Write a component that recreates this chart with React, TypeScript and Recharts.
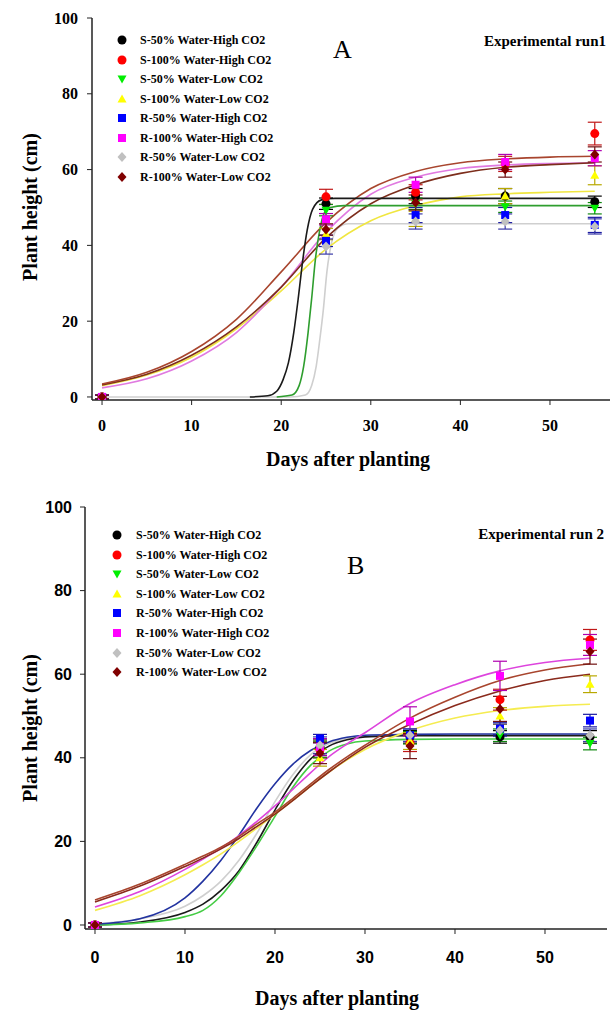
import React from 'react';
import { ComposedChart, Line, Scatter, XAxis, YAxis, ErrorBar } from 'recharts';

// sampling days of the measured points
const days = [0, 25, 35, 45, 55];

const seriesNames = [
  'S-50% Water-High CO2',
  'S-100% Water-High CO2',
  'S-50% Water-Low CO2',
  'S-100% Water-Low CO2',
  'R-50% Water-High CO2',
  'R-100% Water-High CO2',
  'R-50% Water-Low CO2',
  'R-100% Water-Low CO2',
];

// run 1 (A) means and error
const aS50High = [0, 51, 53, 53, 51.5];
const aS100High = [0, 52.8, 54, 61.5, 69.5];
const aS50Low = [0, 49.3, 51, 50.2, 49.8];
const aS100Low = [0, 43, 47, 53, 58.5];
const aR50High = [0, 41.2, 48, 48, 45.4];
const aR100High = [0, 46.9, 56, 62, 63];
const aR50Low = [0, 39.7, 46.3, 46.3, 45];
const aR100Low = [0, 44.2, 51.3, 60, 64];
const aErr = [
  [0.5, 1.5, 2, 2, 1.5],
  [0.5, 2, 2, 2, 3],
  [0.5, 1.5, 1.5, 1.5, 1.5],
  [0.5, 1.5, 2, 2, 2.5],
  [0.5, 1.5, 2, 2, 2],
  [0.5, 1.5, 2, 2, 2],
  [0.5, 2, 2, 2, 2],
  [0.5, 1.5, 2, 2, 2],
];

// run 2 (B) means and error
const bS50High = [0, 42.5, 45, 45, 45];
const bS100High = [0, 42, 43.5, 53.9, 68.2];
const bS50Low = [0, 42, 44.8, 45.4, 43.4];
const bS100Low = [0, 40, 44, 50, 57.6];
const bR50High = [0, 44.6, 45.4, 47, 48.9];
const bR100High = [0, 42.6, 48.7, 59.6, 67];
const bR50Low = [0, 43, 45.4, 46.6, 45.4];
const bR100Low = [0, 41.1, 42.8, 51.7, 65.4];
const bErr = [
  [0.5, 2, 1.5, 1.5, 1.5],
  [0.5, 2, 2, 2.5, 2.5],
  [0.5, 2, 1.5, 1.5, 1.5],
  [0.5, 2, 2, 2, 2],
  [0.5, 1, 1.5, 1.5, 1.5],
  [0.5, 2, 3.5, 3.5, 2.5],
  [0.5, 2, 1.5, 1.5, 1.5],
  [0.5, 2.5, 3, 3, 3],
];

// fitted curves, run 1
const fitXA = [0, 5, 10, 15, 20, 25, 30, 35, 40, 45, 50, 55];
const fitA_S100High = [3.4, 6.5, 12, 20.5, 33, 46, 55, 59.5, 61.8, 62.8, 63.3, 63.5];
const fitA_S100Low = [3, 5.8, 10.5, 18, 28, 39, 46.5, 50.5, 52.8, 53.6, 54, 54.3];
const fitA_R100High = [2.4, 4.8, 9.5, 17, 29, 43.5, 53.5, 58, 60.3, 61.2, 61.6, 61.8];
const fitA_R100Low = [3.2, 6, 11, 18.5, 29, 42, 51, 56, 59, 60.6, 61.3, 61.8];
const fitA_S50HighX = [16.5, 18.5, 19.5, 20.2, 20.8, 21.4, 21.9, 22.4, 22.9, 23.5, 24.5, 26, 55];
const fitA_S50HighY = [0, 0.3, 1.5, 4.5, 9, 17, 26, 36, 44, 49.5, 52, 52.4, 52.4];
const fitA_S50LowX = [19.5, 21.2, 22, 22.5, 23, 23.4, 23.8, 24.3, 24.8, 25.5, 27, 55];
const fitA_S50LowY = [0, 0.5, 3, 8, 17, 26, 36, 44, 48.5, 50, 50.5, 50.5];
const fitA_R50LowX = [0, 21, 22.7, 23.4, 23.9, 24.3, 24.7, 25.1, 25.6, 26.3, 27.5, 55];
const fitA_R50LowY = [0, 0, 0.5, 3, 8, 15, 23, 33, 40.5, 44.5, 45.7, 45.7];

// fitted curves, run 2
const fitXB = [0, 5, 10, 12, 14, 16, 18, 20, 22, 24, 26, 28, 30, 35, 40, 45, 50, 55];
const fitB_S50High = [0, 0.7, 3, 5, 8.3, 13, 19.8, 27.5, 34.5, 39.8, 42.8, 44.3, 45, 45.3, 45.3, 45.3, 45.3, 45.3];
const fitB_S100High = [6, 9.8, 14.5, 16.5, 18.6, 21.2, 24.2, 27, 30.3, 33.8, 37.2, 40.2, 43, 49.5, 54.5, 58.5, 61, 62.5];
const fitB_S50Low = [0, 0.5, 2, 3.5, 7, 12.5, 19, 26, 33, 38.3, 41.6, 43.3, 44, 44.4, 44.5, 44.5, 44.5, 44.5];
const fitB_S100Low = [3.5, 7, 12, 14.4, 17, 20, 23.2, 26.5, 29.9, 33.3, 36.6, 39.5, 42, 46.5, 49.5, 51.3, 52.3, 52.8];
const fitB_R50High = [0.2, 1.5, 6.5, 10.5, 15.5, 21.5, 28, 33.8, 38.5, 41.8, 43.8, 44.9, 45.4, 45.6, 45.7, 45.7, 45.7, 45.7];
const fitB_R100High = [4.3, 8, 13.3, 15.8, 18.4, 21.4, 24.8, 28.5, 32.5, 36.5, 40.3, 43.3, 46, 53, 57.5, 60.8, 62.8, 63.8];
const fitB_R50Low = [0.3, 1.5, 4.5, 7, 10.5, 15.5, 22, 29.5, 36, 40.8, 43.4, 44.7, 45.1, 45.4, 45.4, 45.4, 45.4, 45.4];
const fitB_R100Low = [5.5, 9.3, 14, 16, 18.2, 20.7, 23.6, 26.5, 29.8, 33.3, 36.6, 39.7, 42.5, 48, 52.5, 56, 58.5, 60];

const xTicks = [0, 10, 20, 30, 40, 50];
const yTicks = [0, 20, 40, 60, 80, 100];

const markColors = ['#000000', '#ff0000', '#00ee00', '#ffff00', '#0000ff', '#ff00ff', '#c0c0c0', '#800000'];
const errColors = ['#000000', '#c01818', '#118811', '#b8a800', '#1a1aa0', '#b000b0', '#3a3aa8', '#701010'];
const markKinds = ['circle', 'circle', 'down', 'up', 'square', 'square', 'diamond', 'diamond'];

const SERIF = '"Liberation Serif", "Times New Roman", serif';
const SANS = '"Liberation Sans", Arial, sans-serif';

function Mark({ cx, cy, kind, color, r = 4.5 }: any) {
  if (cx == null || cy == null) return null;
  switch (kind) {
    case 'circle':
      return <circle cx={cx} cy={cy} r={r} fill={color} />;
    case 'square':
      return <rect x={cx - r + 0.5} y={cy - r + 0.5} width={2 * r - 1} height={2 * r - 1} fill={color} />;
    case 'diamond':
      return <path d={`M${cx},${cy - r - 0.5}L${cx + r},${cy}L${cx},${cy + r + 0.5}L${cx - r},${cy}Z`} fill={color} />;
    case 'up':
      return <path d={`M${cx},${cy - r}L${cx + r},${cy + r - 1}L${cx - r},${cy + r - 1}Z`} fill={color} />;
    case 'down':
      return <path d={`M${cx},${cy + r}L${cx + r},${cy - r + 1}L${cx - r},${cy - r + 1}Z`} fill={color} />;
    default:
      return null;
  }
}

const toPts = (xs: number[], ys: number[]) => xs.map((x, i) => ({ x, y: ys[i] }));

interface Curve {
  pts: { x: number; y: number }[];
  color: string;
}

interface RunChartProps {
  means: number[][];
  errs: number[][];
  curves: Curve[];
  xDomain: [number, number];
  yDomain: [number, number];
  height: number;
  top: number;
  yAxisWidth: number;
  right: number;
  xAxisHeight: number;
  tickFont: string;
  xTickMargin: number;
  yTickMargin: number;
}

function RunChart(p: RunChartProps) {
  const tickStyle = { fontFamily: p.tickFont, fontWeight: 'bold', fontSize: 16, fill: '#000' };
  return (
    <ComposedChart
      width={611}
      height={p.height}
      margin={{ top: p.top, right: p.right, left: 0, bottom: 0 }}
    >
      <XAxis
        type="number"
        dataKey="x"
        domain={p.xDomain}
        ticks={xTicks}
        allowDataOverflow
        height={p.xAxisHeight}
        tick={tickStyle}
        tickSize={5}
        tickMargin={p.xTickMargin}
        tickLine={{ stroke: '#222' }}
        axisLine={{ stroke: '#222', strokeWidth: 1.5 }}
      />
      <XAxis
        xAxisId="top"
        orientation="top"
        type="number"
        domain={p.xDomain}
        allowDataOverflow
        height={0}
        tick={false}
        tickLine={false}
        axisLine={{ stroke: '#222', strokeWidth: 1.5 }}
      />
      <YAxis
        type="number"
        domain={p.yDomain}
        ticks={yTicks}
        allowDataOverflow
        width={p.yAxisWidth}
        tick={tickStyle}
        tickSize={5}
        tickMargin={p.yTickMargin}
        tickLine={{ stroke: '#222' }}
        axisLine={{ stroke: '#222', strokeWidth: 1.5 }}
      />
      <YAxis
        yAxisId="right"
        orientation="right"
        type="number"
        domain={p.yDomain}
        allowDataOverflow
        width={0}
        tick={false}
        tickLine={false}
        axisLine={{ stroke: '#222', strokeWidth: 1.5 }}
      />
      {p.curves.map((c, i) => (
        <Line
          key={`fit-${i}`}
          data={c.pts}
          dataKey="y"
          type="monotone"
          stroke={c.color}
          strokeWidth={1.6}
          dot={false}
          activeDot={false}
          isAnimationActive={false}
        />
      ))}
      {p.means.map((m, i) => (
        <Scatter
          key={`pts-${i}`}
          data={days.map((d, j) => ({ x: d, y: m[j], err: p.errs[i][j] }))}
          dataKey="y"
          isAnimationActive={false}
          shape={(s: any) => <Mark cx={s.cx} cy={s.cy} kind={markKinds[i]} color={markColors[i]} />}
        >
          <ErrorBar dataKey="err" direction="y" width={7} stroke={errColors[i]} strokeWidth={1.2} />
        </Scatter>
      ))}
    </ComposedChart>
  );
}

function LegendBox({ left, top, textLeft, step }: { left: number; top: number; textLeft: number; step: number }) {
  return (
    <>
      {seriesNames.map((n, i) => (
        <div key={n} style={{ position: 'absolute', left: 0, top: top + i * step - 8, height: 16, width: 300 }}>
          <svg width={14} height={16} style={{ position: 'absolute', left: left - 7, top: 0 }}>
            <Mark cx={7} cy={8} kind={markKinds[i]} color={markColors[i]} r={4.5} />
          </svg>
          <span
            style={{
              position: 'absolute',
              left: textLeft,
              top: 0,
              lineHeight: '16px',
              fontFamily: SERIF,
              fontWeight: 'bold',
              fontSize: 12,
              whiteSpace: 'nowrap',
              color: '#000',
            }}
          >
            {n}
          </span>
        </div>
      ))}
    </>
  );
}

const textBase: React.CSSProperties = {
  position: 'absolute',
  fontFamily: SERIF,
  color: '#000',
  whiteSpace: 'nowrap',
  lineHeight: 1,
};

export default function App() {
  const meansA = [aS50High, aS100High, aS50Low, aS100Low, aR50High, aR100High, aR50Low, aR100Low];
  const meansB = [bS50High, bS100High, bS50Low, bS100Low, bR50High, bR100High, bR50Low, bR100Low];

  const curvesA: Curve[] = [
    { pts: toPts(fitA_R50LowX, fitA_R50LowY), color: '#cfcfcf' },
    { pts: toPts(fitXA, fitA_S100Low), color: '#f0e640' },
    { pts: toPts(fitXA, fitA_R100High), color: '#e07ae0' },
    { pts: toPts(fitXA, fitA_R100Low), color: '#7d2e1c' },
    { pts: toPts(fitXA, fitA_S100High), color: '#a8452e' },
    { pts: toPts(fitA_S50LowX, fitA_S50LowY), color: '#2e9e2e' },
    { pts: toPts(fitA_S50HighX, fitA_S50HighY), color: '#1a1a1a' },
  ];

  const curvesB: Curve[] = [
    { pts: toPts(fitXB, fitB_R50Low), color: '#cfcfcf' },
    { pts: toPts(fitXB, fitB_S50High), color: '#1a1a1a' },
    { pts: toPts(fitXB, fitB_S50Low), color: '#44cc44' },
    { pts: toPts(fitXB, fitB_R50High), color: '#2233a0' },
    { pts: toPts(fitXB, fitB_S100Low), color: '#f5ec50' },
    { pts: toPts(fitXB, fitB_R100High), color: '#dd44dd' },
    { pts: toPts(fitXB, fitB_R100Low), color: '#8a2a1c' },
    { pts: toPts(fitXB, fitB_S100High), color: '#a8452e' },
  ];

  return (
    <div style={{ position: 'absolute', left: 0, top: 0, width: 611, height: 1010, background: '#fff', overflow: 'hidden' }}>
      {/* run 1 */}
      <div style={{ position: 'absolute', left: 0, top: 0 }}>
        <RunChart
          means={meansA}
          errs={aErr}
          curves={curvesA}
          xDomain={[-1.12, 56.7]}
          yDomain={[-0.8, 100]}
          height={480}
          top={18}
          yAxisWidth={92}
          right={1}
          xAxisHeight={80}
          tickFont={SERIF}
          xTickMargin={15}
          yTickMargin={9}
        />
      </div>
      <LegendBox left={122} top={40} textLeft={140} step={19.5} />
      <div style={{ ...textBase, left: 333, top: 37, fontSize: 26 }}>A</div>
      <div style={{ ...textBase, right: 5, top: 34, fontSize: 15, fontWeight: 'bold' }}>Experimental run1</div>
      <div style={{ ...textBase, left: 266, top: 449, fontSize: 20, fontWeight: 'bold' }}>Days after planting</div>
      <div style={{ ...textBase, left: 30, top: 207, fontSize: 20, fontWeight: 'bold', transform: 'translate(-50%, -50%) rotate(-90deg)' }}>
        Plant height (cm)
      </div>

      {/* run 2 */}
      <div style={{ position: 'absolute', left: 0, top: 489 }}>
        <RunChart
          means={meansB}
          errs={bErr}
          curves={curvesB}
          xDomain={[-1.11, 56.89]}
          yDomain={[-0.96, 100]}
          height={521}
          top={18}
          yAxisWidth={85}
          right={4}
          xAxisHeight={81}
          tickFont={SANS}
          xTickMargin={18}
          yTickMargin={8}
        />
      </div>
      <LegendBox left={117} top={535} textLeft={136} step={19.6} />
      <div style={{ ...textBase, left: 347, top: 553, fontSize: 26 }}>B</div>
      <div style={{ ...textBase, right: 7, top: 527, fontSize: 15, fontWeight: 'bold' }}>Experimental run 2</div>
      <div style={{ ...textBase, left: 255, top: 988, fontSize: 20, fontWeight: 'bold' }}>Days after planting</div>
      <div style={{ ...textBase, left: 30, top: 728, fontSize: 20, fontWeight: 'bold', transform: 'translate(-50%, -50%) rotate(-90deg)' }}>
        Plant height (cm)
      </div>
    </div>
  );
}
